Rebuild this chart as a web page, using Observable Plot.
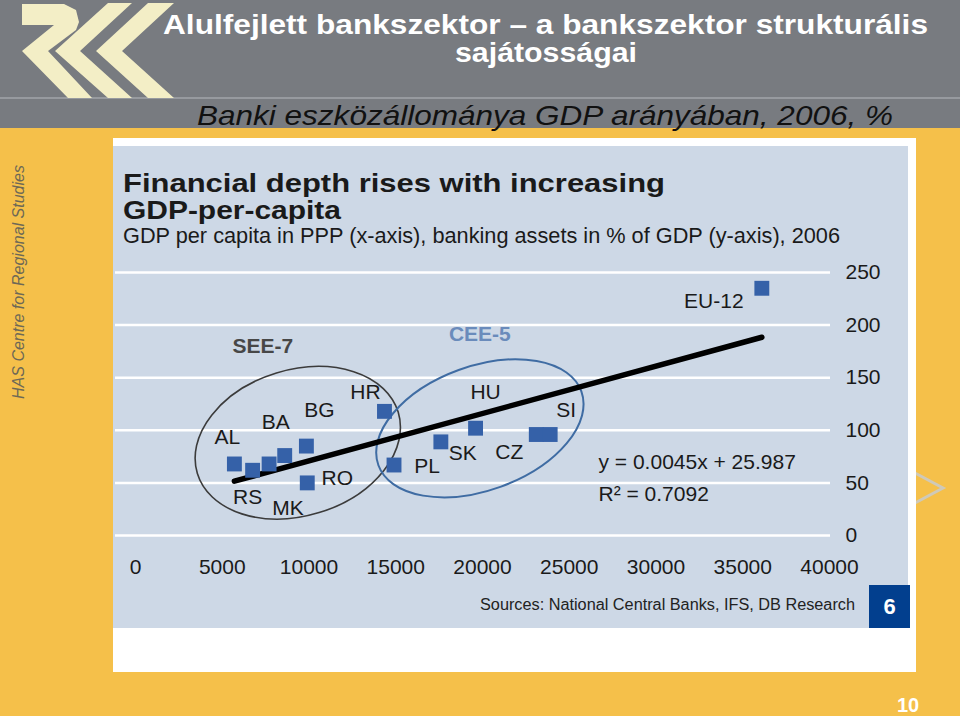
<!DOCTYPE html>
<html><head><meta charset="utf-8">
<script src="https://cdn.jsdelivr.net/npm/d3@7"></script>
<script src="https://cdn.jsdelivr.net/npm/@observablehq/plot@0.6"></script>
<style>
html,body{margin:0;padding:0;background:#f5c04a;}
#slide{position:relative;width:960px;height:716px;background:#f5c04a;overflow:hidden;font-family:"Liberation Sans",Arial,sans-serif;}
.abs{position:absolute;white-space:nowrap;line-height:1;}
.fit{display:inline-block;transform-origin:0 0;}
#plotbox{position:absolute;left:113px;top:146px;width:795px;height:482px;background:#cdd8e6;}
#plotbox svg{position:absolute;left:0;top:0;}
</style></head><body>
<div id="slide">
  <div class="abs" style="left:0;top:0;width:960px;height:128px;background:#787b80"></div>
  <div class="abs" style="left:0;top:97px;width:960px;height:2px;background:#979a9f"></div>
  <svg class="abs" style="left:0;top:0" width="200" height="100">
    <g fill="#f3eec6">
      <polygon points="22,4 64,4 76,10 79,22 76,30 48,51 92,98 68,98 22,51 54,25 22,25"/>
      <polygon points="55,51 108,3 132,3 80,51 132,98 108,98"/>
      <polygon points="96,51 148,3 174,3 122,51 174,98 148,98"/>
    </g>
  </svg>
  <div class="abs fit" data-w="765" style="left:163px;top:11px;font-weight:bold;font-size:28px;font-family:'Liberation Sans Narrow','Liberation Sans',sans-serif;color:#fff">Alulfejlett bankszektor – a bankszektor strukturális</div>
  <div class="abs fit" data-w="182" style="left:455px;top:39px;font-weight:bold;font-size:28px;font-family:'Liberation Sans Narrow','Liberation Sans',sans-serif;color:#fff">sajátosságai</div>
  <div class="abs fit" data-w="696" style="left:197px;top:102px;font-style:italic;font-size:28px;font-family:'Liberation Sans Narrow','Liberation Sans',sans-serif;color:#111">Banki eszközállománya GDP arányában, 2006, %</div>
  <div class="abs" style="left:19px;top:282px;transform:translate(-50%,-50%) rotate(-90deg);font-style:italic;font-size:16px;color:#6d6856">HAS Centre for Regional Studies</div>
  <svg class="abs" style="left:900px;top:460px" width="60" height="60">
    <polyline points="15,13 43,28 15,43" fill="none" stroke="#cfc9b8" stroke-width="3"/>
  </svg>
  <div class="abs" style="left:113px;top:138px;width:803px;height:534px;background:#fff"></div>
  <div id="plotbox"></div>
  <div class="abs fit" data-w="542" style="left:123px;top:171px;font-weight:bold;font-size:25px;color:#1a1a1a">Financial depth rises with increasing</div>
  <div class="abs fit" data-w="218" style="left:123px;top:197.5px;font-weight:bold;font-size:25px;color:#1a1a1a">GDP-per-capita</div>
  <div class="abs fit" data-w="717" style="left:123px;top:225px;font-size:22px;color:#1a1a1a">GDP per capita in PPP (x-axis), banking assets in % of GDP (y-axis), 2006</div>
  <div class="abs fit" data-w="375" style="left:480px;top:597px;font-size:16px;color:#222">Sources: National Central Banks, IFS, DB Research</div>
  <div class="abs" style="left:869px;top:585px;width:41px;height:43px;background:#023f8e;color:#fff;font-weight:bold;font-size:22px;line-height:43px;text-align:center">6</div>
  <div class="abs" style="left:884px;top:695px;width:48px;text-align:center;color:#fff;font-weight:bold;font-size:20px">10</div>
</div>
<script>
// ---- data ----
const countries    = ["AL", "RS", "MK", "BA", "BG", "RO", "HR", "PL", "SK", "HU", "CZ", "SI", "EU-12"];
const groups       = ["SEE-7","SEE-7","SEE-7","SEE-7","SEE-7","SEE-7","SEE-7","CEE-5","CEE-5","CEE-5","CEE-5","CEE-5","EU-12"];
const gdpPerCapita = [5700, 6750, 7700, 8600, 9850, 9900, 14350, 14900, 17600, 19600, 23100, 23900, 36100];
const bankAssets   = [68, 62, 68, 76, 85, 50, 118, 67, 89, 102, 96, 96, 235];
const xTicks = [0, 5000, 10000, 15000, 20000, 25000, 30000, 35000, 40000];
const yTicks = [0, 50, 100, 150, 200, 250];
const trendSlope = 0.0045;
const trendIntercept = 25.987;
const rSquared = 0.7092;

// ---- label placement (pixel offsets, styling only) ----
const labelDx = [-7, -5, 19, -9, 13, 30, -19, 33, 22, 10, -27, 16, -48];
const labelDy = [-27, 27, 44, -33, -36, -5, -19, 1, 11, -36, 18, -24, 13];
const groupStyle = {
  "SEE-7": {dx: 7, dy: -13, rx: 105, ry: 73, rotate: -17, stroke: "#3b3b3b", width: 1.6, ldx: -35, ldy: -97, lcolor: "#474747"},
  "CEE-5": {dx: 1, dy: -12, rx: 108, ry: 62, rotate: -20, stroke: "#3f6ca3", width: 2, ldx: 0, ldy: -95, lcolor: "#6a8bbb"}
};

const BG = "#cdd8e6";
const points = countries.map((name, i) => ({name, group: groups[i], gdp: gdpPerCapita[i], assets: bankAssets[i]}));
const [xMin, xMax] = d3.extent(gdpPerCapita);
const trend = [xMin, xMax].map(x => ({x, y: trendSlope * x + trendIntercept}));

function groupEllipses(index, scales) {
  const sx = typeof scales.x === "function" ? scales.x : scales.scales.x.apply;
  const sy = typeof scales.y === "function" ? scales.y : scales.scales.y.apply;
  const g = d3.create("svg:g");
  for (const [name, st] of Object.entries(groupStyle)) {
    const members = points.filter(p => p.group === name);
    const cx = d3.mean(members, p => sx(p.gdp)) + st.dx;
    const cy = d3.mean(members, p => sy(p.assets)) + st.dy;
    g.append("ellipse").attr("rx", st.rx).attr("ry", st.ry)
      .attr("transform", `translate(${cx},${cy}) rotate(${st.rotate})`)
      .attr("fill", "none").attr("stroke", st.stroke).attr("stroke-width", st.width);
    g.append("text").attr("x", cx + st.ldx).attr("y", cy + st.ldy)
      .attr("text-anchor", "middle").attr("dy", "0.35em")
      .attr("font-weight", "bold").attr("font-size", 21).attr("fill", st.lcolor)
      .text(name);
  }
  return g.node();
}

const chart = Plot.plot({
  width: 795, height: 482,
  marginLeft: 22, marginRight: 79, marginTop: 126, marginBottom: 93,
  style: {background: "transparent", fontFamily: "Liberation Sans, Arial, sans-serif", fontSize: "21px", color: "#1a1a1a", overflow: "visible"},
  x: {domain: [0, 40000], ticks: xTicks, tickSize: 0, tickPadding: 24, tickFormat: "d", label: null},
  y: {domain: [0, 250], ticks: yTicks, axis: "right", tickSize: 0, tickPadding: 16, tickFormat: "d", label: null},
  marks: [
    Plot.ruleY(yTicks, {stroke: "#fff", strokeWidth: 2.5, insetLeft: -20, insetRight: -1}),
    groupEllipses,
    Plot.line(trend, {x: "x", y: "y", stroke: "#000", strokeWidth: 5.5}),
    Plot.dot(points, {x: "gdp", y: "assets", symbol: "square", r: 8.4, fill: "#3561a8"}),
    ...points.map((p, i) => Plot.text([p], {x: "gdp", y: "assets", text: "name", dx: labelDx[i], dy: labelDy[i], fill: "#1a1a1a", fontSize: 21})),
    Plot.text([`y = ${trendSlope}x + ${trendIntercept}`], {frameAnchor: "bottom-right", textAnchor: "start", dx: -231, dy: -67, fill: "#1a1a1a", fontSize: 21}),
    Plot.text([`R² = ${rSquared}`], {frameAnchor: "bottom-right", textAnchor: "start", dx: -231, dy: -35, fill: "#1a1a1a", fontSize: 21})
  ]
});
document.getElementById("plotbox").append(chart);

// background box behind the regression equation (hides the gridline as in the original)
const eq = Array.from(chart.querySelectorAll("text")).find(t => t.textContent.startsWith("y = "));
if (eq) {
  const b = eq.getBBox();
  const rect = document.createElementNS("http://www.w3.org/2000/svg", "rect");
  rect.setAttribute("x", b.x - 2); rect.setAttribute("y", b.y);
  rect.setAttribute("width", b.width + 4); rect.setAttribute("height", b.height + 4);
  rect.setAttribute("fill", BG);
  rect.setAttribute("stroke", "none");
  const tf = eq.getAttribute("transform");
  if (tf) rect.setAttribute("transform", tf);
  eq.parentNode.insertBefore(rect, eq);
}

// fit text blocks to the measured widths of the original
document.querySelectorAll(".fit").forEach(el => {
  const w = el.getBoundingClientRect().width;
  const t = +el.dataset.w;
  if (w > 0) el.style.transform = `scaleX(${t / w})`;
});
</script>
</body></html>
